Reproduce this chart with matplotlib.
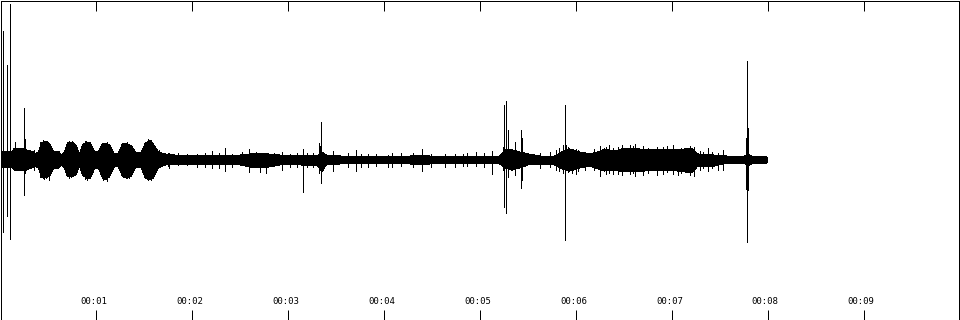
import numpy as np
import matplotlib
matplotlib.use("Agg")
import matplotlib.pyplot as plt

# waveform envelope: time (s), peak above / below zero (full scale = 1)
env_t = [0.000, 0.125, 0.146, 0.229, 0.271, 0.344, 0.365, 0.396, 0.427, 0.479,
         0.521, 0.552, 0.604, 0.635, 0.667, 0.698, 0.750, 0.792, 0.823, 0.854,
         0.896, 0.938, 0.979, 1.021, 1.063, 1.104, 1.146, 1.188, 1.229, 1.271,
         1.313, 1.365, 1.406, 1.469, 1.510, 1.563, 1.604, 1.646, 1.719, 1.823,
         2.083, 2.500, 2.604, 2.792, 2.917, 3.125, 3.313, 3.354, 3.396, 3.542,
         4.271, 4.375, 4.479, 5.208, 5.260, 5.333, 5.417, 5.500, 5.625, 5.781,
         5.854, 5.938, 6.042, 6.146, 6.229, 6.302, 6.406, 6.510, 6.667, 6.771,
         6.979, 7.135, 7.208, 7.271, 7.448, 7.573, 7.760, 7.792, 7.833, 7.969,
         8.000]
env_up = [0.056, 0.056, 0.075, 0.075, 0.063, 0.050, 0.038, 0.050, 0.106, 0.119,
          0.094, 0.056, 0.056, 0.031, 0.050, 0.106, 0.113, 0.088, 0.038, 0.094,
          0.113, 0.106, 0.056, 0.050, 0.100, 0.106, 0.088, 0.038, 0.044, 0.100,
          0.106, 0.088, 0.050, 0.050, 0.106, 0.125, 0.088, 0.050, 0.038, 0.031,
          0.031, 0.031, 0.038, 0.038, 0.031, 0.031, 0.031, 0.050, 0.031, 0.025,
          0.025, 0.031, 0.025, 0.025, 0.063, 0.063, 0.050, 0.038, 0.025, 0.025,
          0.050, 0.069, 0.050, 0.038, 0.050, 0.069, 0.056, 0.075, 0.069, 0.063,
          0.063, 0.069, 0.075, 0.038, 0.031, 0.025, 0.025, 0.038, 0.025, 0.025,
          0.013]
env_dn = [0.050, 0.050, 0.063, 0.063, 0.063, 0.044, 0.038, 0.050, 0.106, 0.113,
          0.094, 0.056, 0.050, 0.031, 0.050, 0.100, 0.106, 0.088, 0.038, 0.094,
          0.113, 0.113, 0.056, 0.050, 0.113, 0.125, 0.094, 0.038, 0.044, 0.100,
          0.113, 0.100, 0.050, 0.050, 0.113, 0.125, 0.100, 0.050, 0.031, 0.031,
          0.031, 0.031, 0.044, 0.044, 0.031, 0.031, 0.038, 0.075, 0.031, 0.025,
          0.025, 0.031, 0.025, 0.025, 0.050, 0.063, 0.050, 0.031, 0.025, 0.031,
          0.056, 0.069, 0.050, 0.038, 0.056, 0.069, 0.063, 0.075, 0.075, 0.063,
          0.063, 0.075, 0.081, 0.038, 0.038, 0.019, 0.019, 0.038, 0.025, 0.025,
          0.013]

# single columns that stick out of the envelope: time (s), peak above / below zero
spike_t = [0.031, 0.063, 0.094, 0.104, 0.156, 0.240, 0.260, 0.354, 0.510, 0.688,
           0.865, 1.094, 1.302, 1.542, 1.656, 1.760, 1.948, 2.208, 2.344, 2.521,
           2.594, 2.771, 2.938, 3.094, 3.156, 3.198, 3.323, 3.333, 3.344, 3.469,
           3.625, 3.708, 3.833, 4.042, 4.083, 4.396, 4.635, 4.823, 4.958, 5.125,
           5.240, 5.250, 5.271, 5.292, 5.365, 5.427, 5.438, 5.729, 5.865, 5.885,
           5.896, 6.000, 6.094, 6.250, 6.385, 6.563, 6.615, 6.844, 7.010, 7.125,
           7.323, 7.375, 7.531, 7.771, 7.781, 7.792]
spike_up = [0.806, 0.594, 0.975, 0.063, 0.113, 0.325, 0.131, 0.063, 0.081, 0.075,
            0.094, 0.088, 0.075, 0.131, 0.063, 0.044, 0.038, 0.056, 0.075, 0.050,
            0.069, 0.044, 0.050, 0.044, 0.069, 0.044, 0.106, 0.088, 0.238, 0.056,
            0.044, 0.063, 0.038, 0.031, 0.044, 0.069, 0.038, 0.038, 0.050, 0.056,
            0.081, 0.344, 0.369, 0.188, 0.113, 0.188, 0.138, 0.050, 0.094, 0.344,
            0.094, 0.069, 0.050, 0.088, 0.075, 0.094, 0.100, 0.081, 0.094, 0.063,
            0.050, 0.075, 0.063, 0.138, 0.619, 0.200]
spike_dn = [0.450, 0.350, 0.494, 0.156, 0.063, 0.219, 0.081, 0.063, 0.125, 0.094,
            0.094, 0.100, 0.063, 0.125, 0.044, 0.050, 0.031, 0.050, 0.069, 0.031,
            0.075, 0.081, 0.063, 0.044, 0.200, 0.044, 0.081, 0.044, 0.144, 0.069,
            0.044, 0.069, 0.044, 0.044, 0.044, 0.069, 0.044, 0.038, 0.038, 0.088,
            0.063, 0.294, 0.331, 0.106, 0.094, 0.175, 0.125, 0.044, 0.081, 0.500,
            0.063, 0.088, 0.063, 0.100, 0.088, 0.088, 0.100, 0.094, 0.088, 0.069,
            0.050, 0.069, 0.063, 0.181, 0.513, 0.188]

# smaller jagged columns along the body of the waveform
rough_t = [0.417, 0.438, 0.458, 0.490, 0.500, 0.698, 0.719, 0.740, 0.760, 0.885,
           0.906, 0.927, 1.073, 1.115, 1.135, 1.281, 1.323, 1.344, 1.521, 1.573,
           1.594, 1.750, 1.854, 2.052, 2.135, 2.281, 2.417, 2.667, 2.708, 2.854,
           3.021, 3.260, 3.760, 3.917, 4.177, 4.302, 4.490, 4.740, 4.865, 5.042,
           5.625, 5.792, 5.823, 5.917, 5.958, 6.021, 6.188, 6.313, 6.344, 6.438,
           6.479, 6.594, 6.698, 6.750, 6.906, 6.948, 7.063, 7.094, 7.188, 7.229,
           7.292, 7.417, 7.479]
rough_up = [0.113, 0.125, 0.119, 0.106, 0.094, 0.113, 0.119, 0.106, 0.100, 0.119,
            0.113, 0.106, 0.106, 0.113, 0.100, 0.106, 0.113, 0.100, 0.106, 0.119,
            0.106, 0.044, 0.044, 0.038, 0.044, 0.044, 0.038, 0.050, 0.044, 0.044,
            0.038, 0.044, 0.038, 0.038, 0.044, 0.044, 0.038, 0.038, 0.044, 0.044,
            0.044, 0.063, 0.075, 0.081, 0.069, 0.063, 0.069, 0.081, 0.094, 0.081,
            0.094, 0.088, 0.088, 0.075, 0.081, 0.088, 0.069, 0.075, 0.088, 0.081,
            0.056, 0.050, 0.044]
rough_dn = [0.106, 0.113, 0.119, 0.100, 0.094, 0.100, 0.113, 0.106, 0.100, 0.119,
            0.125, 0.113, 0.125, 0.131, 0.106, 0.106, 0.113, 0.113, 0.113, 0.125,
            0.113, 0.038, 0.031, 0.044, 0.044, 0.050, 0.044, 0.044, 0.075, 0.038,
            0.044, 0.044, 0.044, 0.038, 0.038, 0.044, 0.044, 0.044, 0.038, 0.044,
            0.050, 0.063, 0.069, 0.075, 0.081, 0.069, 0.063, 0.088, 0.081, 0.088,
            0.094, 0.081, 0.094, 0.081, 0.088, 0.075, 0.094, 0.081, 0.094, 0.100,
            0.063, 0.050, 0.063]

tick_secs = [1, 2, 3, 4, 5, 6, 7, 8, 9]
tick_labels = ["00:01", "00:02", "00:03", "00:04", "00:05",
               "00:06", "00:07", "00:08", "00:09"]

px = 1 / 100 * 72  # one pixel in points at dpi 100

fig = plt.figure(figsize=(9.6, 3.2), dpi=100)
ax = fig.add_axes([0.5 / 960, 0.5 / 320, 959 / 960, 319 / 320])

ax.fill_between(np.array(env_t), np.array(env_up), -np.array(env_dn),
                facecolor="black", edgecolor="none", linewidth=0,
                antialiased=False)
ax.vlines(spike_t, -np.array(spike_dn), np.array(spike_up),
          color="black", lw=px, antialiased=False)
ax.vlines(rough_t, -np.array(rough_dn), np.array(rough_up),
          color="black", lw=px, antialiased=False)

ax.set_xlim(0, 10)
ax.set_ylim(-1, 1)
ax.set_xticks(tick_secs)
ax.set_yticks([])
ax.tick_params(axis="x", direction="in", top=True, bottom=True,
               length=10 * px, width=px, color="black",
               labelbottom=False, labeltop=False)
for s in ax.spines.values():
    s.set_linewidth(px)
    s.set_color("black")

for sec, lab in zip(tick_secs, tick_labels):
    ax.text(sec - 0.025, 1 - 301.5 / 320, lab, transform=ax.get_xaxis_transform(),
            ha="center", va="center", fontsize=6.5, family="DejaVu Sans Mono")

fig.savefig("out.png", dpi=100, facecolor="white")
